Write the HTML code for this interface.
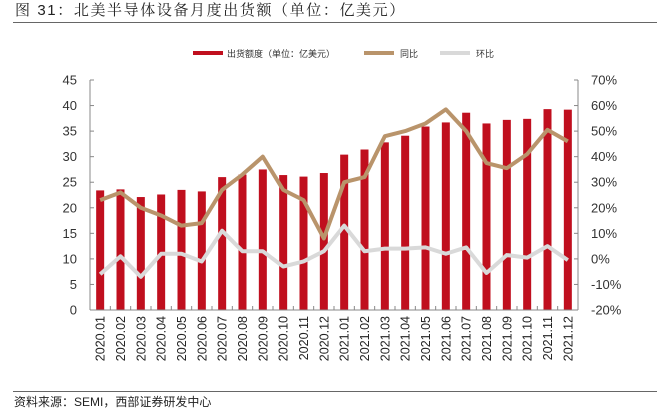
<!DOCTYPE html>
<html><head><meta charset="utf-8"><style>
body{margin:0;width:657px;height:410px;background:#fff;overflow:hidden;font-family:"Liberation Sans","Noto Sans CJK SC",sans-serif}
</style></head><body>
<svg id="c" width="657" height="410" xmlns="http://www.w3.org/2000/svg">
<text x="15" y="15" font-size="15" fill="#222" letter-spacing="1.6" font-family="Liberation Sans,Noto Serif CJK SC,serif">图 31：北美半导体设备月度出货额（单位：亿美元）</text>
<line x1="13" y1="22.5" x2="657" y2="22.5" stroke="#666" stroke-width="1"/>
<line x1="13" y1="391.5" x2="657" y2="391.5" stroke="#666" stroke-width="1"/>
<text x="14" y="406" font-size="12" fill="#222">资料来源：SEMI，西部证券研发中心</text>
<g>
<rect x="193" y="51" width="30" height="4" fill="#c00f1e"/>
<text x="227" y="57" font-size="9" fill="#333">出货额度（单位：亿美元）</text>
<line x1="364" y1="53" x2="394" y2="53" stroke="#b9946b" stroke-width="4"/>
<text x="400" y="57" font-size="9" fill="#333">同比</text>
<line x1="440" y1="53" x2="470" y2="53" stroke="#d9d9d9" stroke-width="4"/>
<text x="476" y="57" font-size="9" fill="#333">环比</text>
</g>
<g id="plot"></g>
</svg>
<script>
const categories=["2020.01","2020.02","2020.03","2020.04","2020.05","2020.06","2020.07","2020.08","2020.09","2020.10","2020.11","2020.12","2021.01","2021.02","2021.03","2021.04","2021.05","2021.06","2021.07","2021.08","2021.09","2021.10","2021.11","2021.12"];
const shipments=[23.4,23.6,22.1,22.6,23.5,23.2,26.0,26.5,27.5,26.4,26.1,26.8,30.4,31.4,32.8,34.1,35.9,36.7,38.6,36.5,37.2,37.4,39.3,39.2];
const yoy=[23,26,20,17,13,14,27,33,40,27,23,8,30,32,48,50,53,58.5,50,37.5,35.5,41,50.5,46];
const mom=[-6,1,-7,2,2,-1,11,3,3,-3,-1,3,13,3,4,4,4.5,2,4.5,-5.5,1.5,0.5,5,-0.5];
const leftTicks=[0,5,10,15,20,25,30,35,40,45];
const rightTicks=[-20,-10,0,10,20,30,40,50,60,70];
const X0=90,X1=578,Y0=310,Y1=80;
const step=(X1-X0)/categories.length;
const xc=i=>X0+step*(i+0.5);
const yL=v=>Y0-(v/45)*(Y0-Y1);
const yR=v=>Y0-((v+20)/90)*(Y0-Y1);
const NS="http://www.w3.org/2000/svg";
const g=document.getElementById('plot');
function mk(t,a){const e=document.createElementNS(NS,t);for(const k in a)e.setAttribute(k,a[k]);g.appendChild(e);return e;}
shipments.forEach((v,i)=>{const r=mk('rect',{x:xc(i)-4,y:yL(v),width:8,height:Y0-yL(v),fill:'#c00f1e'});

});
let a=mk('line',{x1:X0,y1:Y1,x2:X0,y2:Y0,stroke:'#888'});


a=mk('line',{x1:X1,y1:Y1,x2:X1,y2:Y0,stroke:'#888'});


a=mk('line',{x1:X0,y1:Y0,x2:X1,y2:Y0,stroke:'#888'});


leftTicks.forEach(v=>{mk('line',{x1:X0,y1:yL(v),x2:X0+4,y2:yL(v),stroke:'#888'});
const t=mk('text',{x:X0-13,y:yL(v)+4.5,'font-size':13,fill:'#333','text-anchor':'end'});t.textContent=v;

});
rightTicks.forEach(v=>{mk('line',{x1:X1-4,y1:yR(v),x2:X1,y2:yR(v),stroke:'#888'});
const t=mk('text',{x:X1+13,y:yR(v)+4.5,'font-size':13,fill:'#333'});t.textContent=v+'%';

});
for(let i=0;i<=categories.length;i++)mk('line',{x1:X0+step*i,y1:Y0,x2:X0+step*i,y2:Y0-4,stroke:'#888'});
categories.forEach((c,i)=>{const t=mk('text',{x:0,y:0,'font-size':12.5,fill:'#222','text-anchor':'end',transform:`translate(${xc(i)+4.5},316) rotate(-90)`});t.textContent=c;

});
let p=mk('polyline',{points:mom.map((v,i)=>xc(i)+','+yR(v)).join(' '),fill:'none',stroke:'#d9d9d9','stroke-width':4,'stroke-linejoin':'round'});


p=mk('polyline',{points:yoy.map((v,i)=>xc(i)+','+yR(v)).join(' '),fill:'none',stroke:'#b9946b','stroke-width':4,'stroke-linejoin':'round'});


</script>
</body></html>
